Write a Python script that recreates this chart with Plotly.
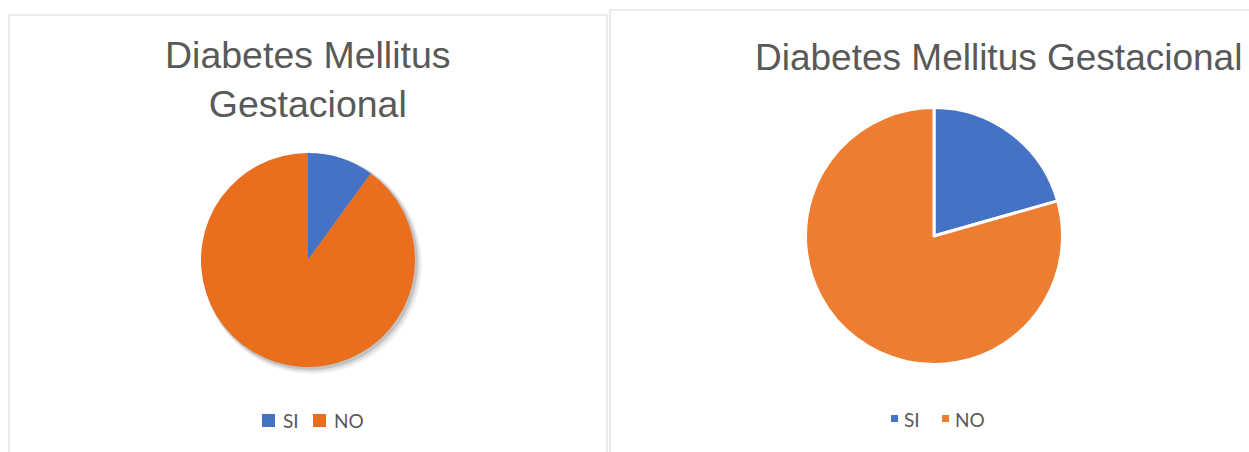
import plotly.graph_objects as go

W, H = 1249, 452

categories = ["SI", "NO"]
left_values = [10, 90]
right_values = [20.6, 79.4]
title_left = "Diabetes Mellitus<br>Gestacional"
title_right = "Diabetes Mellitus Gestacional"

left_colors = ["#4672C6", "#E96E1D"]
right_colors = ["#4472C4", "#ED7D31"]

def px_x(x):
    return x / W

def px_y(y):  # y from top in pixels -> paper
    return 1 - y / H

def dom(cx, cy, r):
    return dict(x=[px_x(cx - r), px_x(cx + r)], y=[px_y(cy + r), px_y(cy - r)])

fig = go.Figure()

# soft shadow for left pie
for off, grow, a in [(4, 3, 0.05), (3, 2, 0.08), (2, 1, 0.13)]:
    fig.add_trace(go.Pie(
        values=[1], labels=["s"], sort=False, textinfo="none", hoverinfo="skip",
        marker=dict(colors=[f"rgba(0,0,0,{a})"], line=dict(width=0)),
        domain=dom(308 + off, 260 + off, 107 + grow), showlegend=False,
    ))

fig.add_trace(go.Pie(
    labels=categories, values=left_values, sort=False, direction="clockwise",
    rotation=0, textinfo="none",
    marker=dict(colors=left_colors, line=dict(width=0)),
    domain=dom(308, 260, 107), showlegend=False,
))

fig.add_trace(go.Pie(
    labels=categories, values=right_values, sort=False, direction="clockwise",
    rotation=0, textinfo="none",
    marker=dict(colors=right_colors, line=dict(color="white", width=3)),
    domain=dom(934, 236, 128.5), showlegend=False,
))

shapes = []
annotations = []

# panel borders
shapes.append(dict(type="rect", xref="paper", yref="paper",
                   x0=px_x(9), x1=px_x(607), y0=px_y(470), y1=px_y(15),
                   line=dict(color="#D9D9D9", width=1.2), fillcolor="rgba(0,0,0,0)", layer="below"))
shapes.append(dict(type="rect", xref="paper", yref="paper",
                   x0=px_x(610), x1=px_x(1300), y0=px_y(470), y1=px_y(10),
                   line=dict(color="#D9D9D9", width=1.2), fillcolor="rgba(0,0,0,0)", layer="below"))

title_font = dict(family="Liberation Sans, Arial", size=37.5, color="#595959")
annotations.append(dict(text=title_left, x=px_x(308), y=px_y(79), xref="paper", yref="paper",
                        xanchor="center", yanchor="middle", showarrow=False, font=title_font))
annotations.append(dict(text=title_right, x=px_x(1244), y=px_y(58), xref="paper", yref="paper",
                        xanchor="right", yanchor="middle", showarrow=False,
                        font=dict(family="Liberation Sans, Arial", size=37, color="#595959")))

leg_font = dict(family="Lato, Open Sans", size=19, color="#595959")

# left legend
left_sq = [262, 313]
for lab, col, x in zip(categories, left_colors, left_sq):
    shapes.append(dict(type="rect", xref="paper", yref="paper",
                       x0=px_x(x), x1=px_x(x + 13), y0=px_y(427), y1=px_y(414),
                       line=dict(width=0), fillcolor=col))
    annotations.append(dict(text=lab, x=px_x(x + 19), y=px_y(420), xref="paper", yref="paper",
                            xanchor="left", yanchor="middle", showarrow=False, font=leg_font))

# right legend
right_sq = [891, 942]
for lab, col, x in zip(categories, right_colors, right_sq):
    shapes.append(dict(type="rect", xref="paper", yref="paper",
                       x0=px_x(x), x1=px_x(x + 7), y0=px_y(422), y1=px_y(415),
                       line=dict(width=0), fillcolor=col))
    annotations.append(dict(text=lab, x=px_x(x + 11), y=px_y(419), xref="paper", yref="paper",
                            xanchor="left", yanchor="middle", showarrow=False, font=leg_font))

fig.update_layout(
    width=W, height=H, margin=dict(l=0, r=0, t=0, b=0),
    paper_bgcolor="white", plot_bgcolor="white",
    shapes=shapes, annotations=annotations, showlegend=False,
)

fig.write_html("out.html")
